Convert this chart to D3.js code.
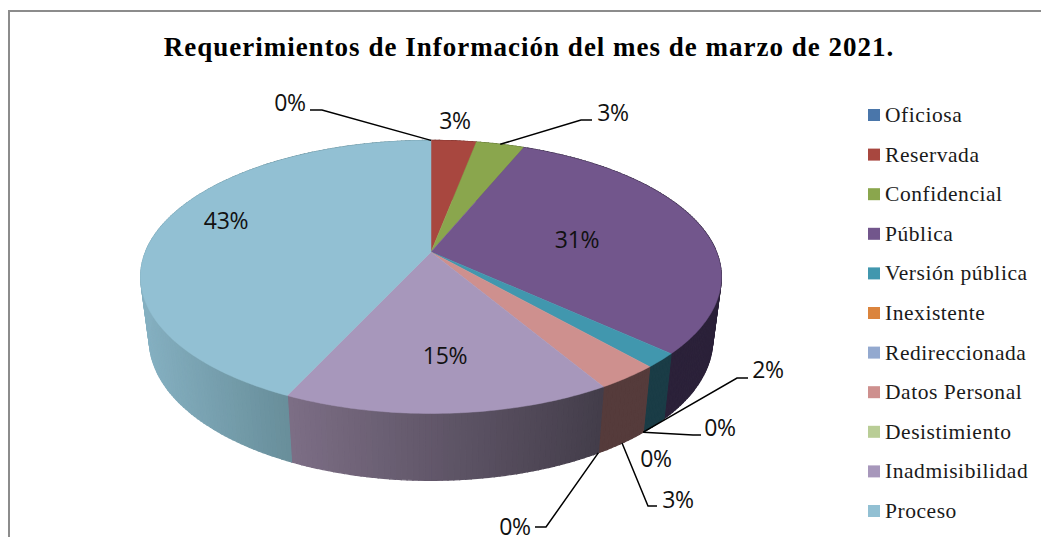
<!DOCTYPE html>
<html lang="es">

<head>
    <meta charset="UTF-8">
    <title>Requerimientos de Información</title>
    <style>
        html, body { margin: 0; padding: 0; background: #fff; }
        svg { display: block; }
        .title { font-family: "Liberation Serif", serif; font-weight: bold; font-size: 27px; letter-spacing: 1px; }
        .legend-label { font-family: "Liberation Serif", serif; font-size: 21.5px; letter-spacing: 0.55px; fill: #1a1a1a; }
        .data-label { font-family: "Open Sans", sans-serif; font-size: 23px; letter-spacing: -0.3px; fill: #111; }
    </style>
</head>

<body>
    <script src="https://d3js.org/d3.v7.min.js"></script>
    <script>
        const width = 1041;
        const height = 537;

        const titleText = 'Requerimientos de Información del mes de marzo de 2021.';
        const categories = ['Oficiosa', 'Reservada', 'Confidencial', 'Pública', 'Versión pública', 'Inexistente',
            'Redireccionada', 'Datos Personal', 'Desistimiento', 'Inadmisibilidad', 'Proceso'];
        const shares = [0, 3.0, 3.2, 30.6, 1.7, 0, 0, 3.0, 0, 15.4, 43.1];

        const colors = ['#4a76aa', '#a8473f', '#8aa64d', '#72568c', '#4197ae', '#db843d',
            '#93a9cf', '#ce908e', '#b9cd96', '#a797bb', '#92c0d3'];
        // lado izquierdo / derecho de la cara lateral
        const sideColors = {
            1: ['#6e2c28', '#6e2c28'],
            2: ['#5a6c32', '#5a6c32'],
            3: ['#2b2139', '#2b2139'],
            4: ['#1a3c46', '#1a3c46'],
            7: ['#553b3b', '#553b3b'],
            9: ['#7c6e85', '#433d4a'],
            10: ['#85b0c1', '#688e9a']
        };

        // posición de cada etiqueta y de dónde sale su línea guía
        const labelLayout = [
            { x: 290, y: 102, leader: { face: 'top', at: 'mid', elbow: [322, 110], end: [310, 110] } },
            { x: 455, y: 120 },
            { x: 613, y: 112, leader: { face: 'top', at: 'mid', elbow: [581, 120], end: [592, 120] } },
            { x: 577, y: 239 },
            { x: 768, y: 369, leader: { face: 'bottom', at: 'end', elbow: [737, 378], end: [748, 378] } },
            { x: 720, y: 427, leader: { face: 'bottom', at: 'mid', elbow: [693, 435], end: [701, 435] } },
            { x: 656, y: 458 },
            { x: 678, y: 499, leader: { face: 'bottom', at: 'mid', elbow: [648, 506], end: [657, 506] } },
            { x: 515, y: 526, leader: { face: 'bottom', at: 'mid', elbow: [546, 527], end: [535, 527] } },
            { x: 445, y: 355 },
            { x: 226, y: 220 }
        ];

        // perspectiva de la tarta: cara superior e inferior
        const k = 0.1825;
        const faces = {
            top: { cx: 431, cy: 252, a: 285.5, b: 132 },
            bottom: { cx: 431, cy: 314, a: 277, b: 136 }
        };

        function project(face, angle) {
            const f = faces[face];
            const w = 1 + k * Math.cos(angle);
            return [f.cx + f.a * Math.sin(angle) / w, f.cy - f.b * Math.cos(angle) / w];
        }

        const svg = d3.select('body')
            .append('svg')
            .attr('width', width)
            .attr('height', height);

        // marco
        svg.append('path')
            .attr('d', `M9,${height} V11 H${width}`)
            .attr('fill', 'none')
            .attr('stroke', '#8c8c8c')
            .attr('stroke-width', 2);

        svg.append('text')
            .attr('class', 'title')
            .attr('x', 529)
            .attr('y', 56)
            .attr('text-anchor', 'middle')
            .text(titleText);

        const arcs = d3.pie().sort(null).startAngle(0).endAngle(2 * Math.PI)(shares);
        const step = Math.PI / 180;
        const line = d3.line();

        function arcAngles(d) {
            const n = Math.max(1, Math.ceil((d.endAngle - d.startAngle) / step));
            return d3.range(n + 1).map(i => d.startAngle + (d.endAngle - d.startAngle) * i / n);
        }

        // caras laterales, franja a franja
        const quads = [];
        arcs.forEach(d => {
            if (d.value === 0) return;
            const angles = arcAngles(d);
            const xs = angles.map(a => project('bottom', a)[0]);
            const front = angles.filter(a => Math.cos(a) < 0.3);
            const frontXs = front.length ? front.map(a => project('bottom', a)[0]) : xs;
            const shade = d3.scaleLinear()
                .domain(d3.extent(frontXs))
                .range(sideColors[d.index])
                .clamp(true);
            d3.pairs(angles).forEach(([a0, a1]) => {
                quads.push({
                    points: [project('top', a0), project('top', a1), project('bottom', a1), project('bottom', a0)],
                    fill: shade(project('bottom', (a0 + a1) / 2)[0])
                });
            });
        });

        svg.append('g').selectAll('path')
            .data(quads)
            .enter().append('path')
            .attr('d', d => line(d.points) + 'Z')
            .attr('fill', d => d.fill)
            .attr('stroke', d => d.fill)
            .attr('stroke-width', 1.2);

        // cara superior
        svg.append('g').selectAll('path')
            .data(arcs.filter(d => d.value > 0))
            .enter().append('path')
            .attr('d', d => line([[faces.top.cx, faces.top.cy], ...arcAngles(d).map(a => project('top', a))]) + 'Z')
            .attr('fill', d => colors[d.index])
            .attr('stroke', d => colors[d.index])
            .attr('stroke-width', 0.5);

        // líneas guía
        const percent = d3.format('.0%');
        const total = d3.sum(shares);

        function leaderStart(d, leader) {
            const angle = leader.at === 'end' ? d.endAngle : (d.startAngle + d.endAngle) / 2;
            return project(leader.face, angle);
        }

        const withLeader = arcs.filter(d => labelLayout[d.index].leader);
        svg.append('g').selectAll('path')
            .data(withLeader)
            .enter().append('path')
            .attr('d', d => {
                const l = labelLayout[d.index].leader;
                return line([leaderStart(d, l), l.elbow, l.end]);
            })
            .attr('fill', 'none')
            .attr('stroke', '#000')
            .attr('stroke-width', 1.5);

        svg.append('g').selectAll('text')
            .data(arcs)
            .enter().append('text')
            .attr('class', 'data-label')
            .attr('x', d => labelLayout[d.index].x)
            .attr('y', d => labelLayout[d.index].y)
            .attr('text-anchor', 'middle')
            .attr('dominant-baseline', 'central')
            .text(d => percent(d.value / total));

        // leyenda
        const legendY = d3.scalePoint()
            .domain(categories)
            .range([115, 511]);

        const legend = svg.append('g').selectAll('g')
            .data(categories)
            .enter().append('g')
            .attr('transform', d => `translate(868,${legendY(d)})`);

        legend.append('rect')
            .attr('x', 0)
            .attr('y', -6)
            .attr('width', 12)
            .attr('height', 12)
            .attr('fill', (d, i) => colors[i]);

        legend.append('text')
            .attr('class', 'legend-label')
            .attr('x', 17)
            .attr('y', 7)
            .text(d => d);
    </script>
</body>

</html>
